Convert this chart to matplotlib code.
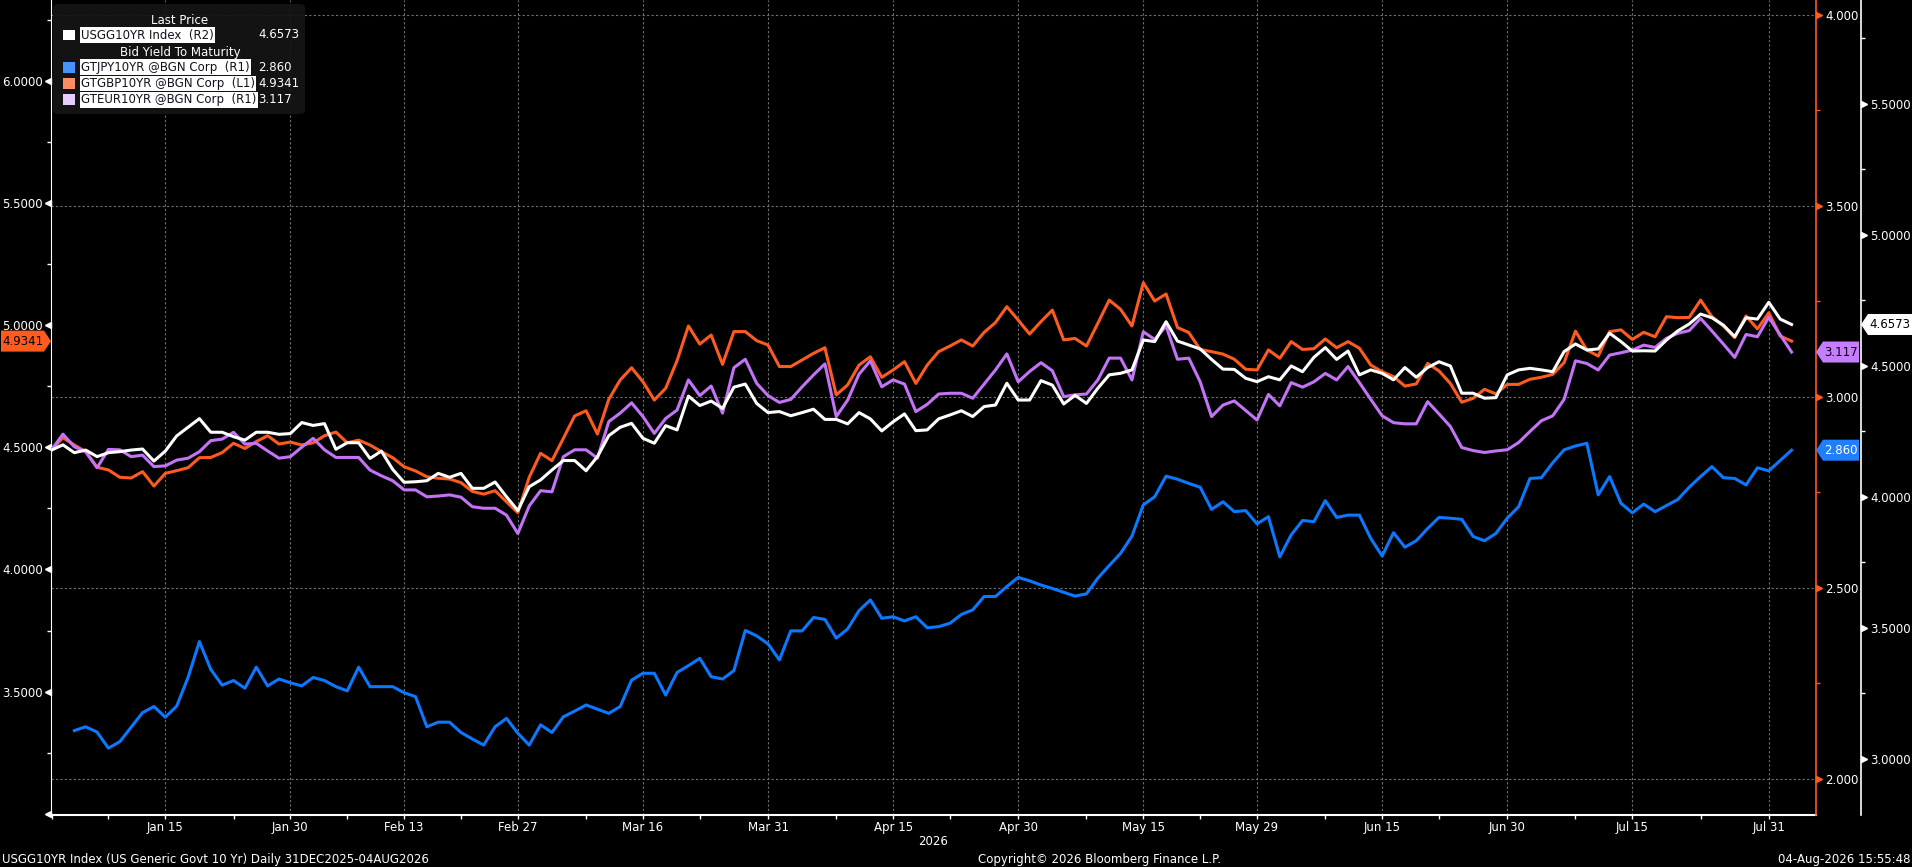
import numpy as np
import pandas as pd
import matplotlib
matplotlib.use("Agg")
import matplotlib.pyplot as plt
from matplotlib import font_manager
from matplotlib.patches import Rectangle, FancyBboxPatch, Polygon

# ---- data (daily, weekdays 01-Jan-2026 .. 04-Aug-2026) ----
us_10y = [
    4.178, 4.198, 4.168, 4.178, 4.153, 4.168, 4.172, 4.178, 4.182, 4.136,
    4.174, 4.232, 4.265, 4.298, 4.246, 4.246, 4.229, 4.216, 4.246, 4.246,
    4.238, 4.241, 4.283, 4.272, 4.279, 4.181, 4.206, 4.206, 4.146, 4.174,
    4.104, 4.055, 4.057, 4.061, 4.089, 4.074, 4.089, 4.032, 4.032, 4.056,
    4.000, 3.947, 4.038, 4.064, 4.102, 4.138, 4.138, 4.099, 4.153, 4.233,
    4.265, 4.280, 4.223, 4.204, 4.271, 4.255, 4.384, 4.348, 4.365, 4.337,
    4.418, 4.430, 4.356, 4.321, 4.325, 4.309, 4.321, 4.334, 4.295, 4.295,
    4.278, 4.321, 4.297, 4.251, 4.286, 4.316, 4.252, 4.255, 4.297, 4.312,
    4.328, 4.306, 4.344, 4.350, 4.433, 4.369, 4.369, 4.443, 4.426, 4.354,
    4.387, 4.356, 4.414, 4.465, 4.471, 4.484, 4.598, 4.592, 4.668, 4.594,
    4.579, 4.564, 4.524, 4.487, 4.486, 4.452, 4.439, 4.458, 4.446, 4.499,
    4.477, 4.532, 4.569, 4.524, 4.556, 4.465, 4.484, 4.471, 4.446, 4.493,
    4.456, 4.493, 4.515, 4.499, 4.395, 4.395, 4.376, 4.378, 4.465, 4.484,
    4.490, 4.484, 4.477, 4.554, 4.583, 4.560, 4.564, 4.624, 4.592, 4.556,
    4.557, 4.556, 4.598, 4.633, 4.659, 4.697, 4.683, 4.655, 4.611, 4.683,
    4.678, 4.742, 4.678, 4.6573,
]

gb_10y = [
    4.489, 4.539, 4.509, 4.482, 4.418, 4.407, 4.377, 4.374, 4.400, 4.341,
    4.393, 4.404, 4.416, 4.457, 4.458, 4.478, 4.516, 4.495, 4.523, 4.547,
    4.513, 4.521, 4.509, 4.518, 4.547, 4.562, 4.518, 4.529, 4.509, 4.482,
    4.457, 4.420, 4.403, 4.379, 4.373, 4.370, 4.355, 4.319, 4.308, 4.322,
    4.277, 4.232, 4.377, 4.475, 4.445, 4.536, 4.628, 4.649, 4.554, 4.696,
    4.775, 4.825, 4.768, 4.693, 4.741, 4.854, 4.996, 4.922, 4.959, 4.839,
    4.973, 4.973, 4.936, 4.918, 4.830, 4.830, 4.857, 4.884, 4.907, 4.714,
    4.755, 4.836, 4.870, 4.786, 4.816, 4.850, 4.761, 4.836, 4.891, 4.914,
    4.939, 4.914, 4.970, 5.010, 5.075, 5.020, 4.963, 5.014, 5.061, 4.939,
    4.945, 4.914, 5.007, 5.102, 5.064, 4.996, 5.173, 5.098, 5.127, 4.990,
    4.969, 4.900, 4.891, 4.881, 4.860, 4.819, 4.816, 4.898, 4.864, 4.932,
    4.900, 4.903, 4.943, 4.907, 4.932, 4.905, 4.836, 4.809, 4.789, 4.750,
    4.759, 4.843, 4.812, 4.761, 4.684, 4.700, 4.737, 4.718, 4.757, 4.757,
    4.778, 4.786, 4.798, 4.846, 4.975, 4.898, 4.873, 4.973, 4.980, 4.941,
    4.970, 4.952, 5.034, 5.030, 5.031, 5.102, 5.034, 4.996, 4.948, 5.037,
    4.984, 5.050, 4.955, 4.9341,
]

eu_10y = [
    2.861, 2.902, 2.869, 2.856, 2.814, 2.862, 2.861, 2.843, 2.847, 2.817,
    2.819, 2.834, 2.839, 2.856, 2.885, 2.889, 2.907, 2.876, 2.878, 2.858,
    2.839, 2.843, 2.868, 2.891, 2.861, 2.841, 2.841, 2.841, 2.808, 2.793,
    2.780, 2.756, 2.756, 2.738, 2.740, 2.743, 2.737, 2.712, 2.708, 2.708,
    2.690, 2.642, 2.714, 2.754, 2.751, 2.843, 2.861, 2.861, 2.839, 2.935,
    2.957, 2.984, 2.948, 2.904, 2.943, 2.965, 3.044, 3.003, 3.028, 2.957,
    3.076, 3.098, 3.035, 3.003, 2.985, 2.993, 3.026, 3.057, 3.086, 2.948,
    2.991, 3.059, 3.094, 3.026, 3.044, 3.033, 2.961, 2.980, 3.007, 3.009,
    3.009, 2.996, 3.033, 3.070, 3.112, 3.039, 3.066, 3.089, 3.068, 3.000,
    3.005, 3.007, 3.044, 3.101, 3.101, 3.044, 3.170, 3.150, 3.185, 3.098,
    3.101, 3.039, 2.948, 2.978, 2.989, 2.964, 2.939, 3.006, 2.976, 3.037,
    3.025, 3.039, 3.061, 3.044, 3.079, 3.037, 2.993, 2.950, 2.932, 2.929,
    2.929, 2.987, 2.955, 2.922, 2.867, 2.859, 2.854, 2.858, 2.861, 2.880,
    2.909, 2.937, 2.950, 2.993, 3.094, 3.087, 3.070, 3.109, 3.115, 3.122,
    3.135, 3.129, 3.153, 3.166, 3.173, 3.205, 3.172, 3.138, 3.103, 3.163,
    3.157, 3.208, 3.162, 3.117,
]

# JGB series starts on 05-Jan (Japanese new-year holidays)
jp_10y = [
    np.nan, np.nan, 2.126, 2.136, 2.122, 2.080, 2.097, 2.135, 2.173, 2.189,
    2.161, 2.190, 2.265, 2.359, 2.286, 2.245, 2.257, 2.237, 2.292, 2.243,
    2.261, 2.251, 2.243, 2.265, 2.257, 2.241, 2.230, 2.292, 2.241, 2.241,
    2.241, 2.225, 2.215, 2.136, 2.148, 2.148, 2.121, 2.104, 2.088, 2.136,
    2.158, 2.119, 2.088, 2.141, 2.121, 2.162, 2.177, 2.193, 2.182, 2.171,
    2.189, 2.258, 2.276, 2.276, 2.219, 2.278, 2.296, 2.315, 2.267, 2.261,
    2.283, 2.388, 2.374, 2.353, 2.311, 2.387, 2.387, 2.422, 2.417, 2.368,
    2.392, 2.440, 2.468, 2.420, 2.424, 2.413, 2.424, 2.395, 2.398, 2.407,
    2.430, 2.442, 2.477, 2.477, 2.503, 2.527, 2.518, 2.507, 2.498, 2.488,
    2.478, 2.484, 2.525, 2.558, 2.590, 2.635, 2.717, 2.738, 2.792, 2.784,
    2.773, 2.763, 2.705, 2.725, 2.699, 2.702, 2.667, 2.686, 2.581, 2.638,
    2.676, 2.673, 2.728, 2.684, 2.690, 2.690, 2.629, 2.583, 2.644, 2.606,
    2.623, 2.655, 2.684, 2.682, 2.679, 2.634, 2.623, 2.642, 2.682, 2.712,
    2.786, 2.788, 2.827, 2.861, 2.871, 2.878, 2.743, 2.791, 2.721, 2.696,
    2.719, 2.699, 2.715, 2.731, 2.763, 2.791, 2.817, 2.788, 2.786, 2.769,
    2.814, 2.806, 2.833, 2.860,
]

major_dates = ["2026-01-15", "2026-01-30", "2026-02-13", "2026-02-27", "2026-03-16",
               "2026-03-31", "2026-04-15", "2026-04-30", "2026-05-15", "2026-05-29",
               "2026-06-15", "2026-06-30", "2026-07-15", "2026-07-31"]
minor_dates = ["2026-01-01", "2026-01-08", "2026-01-23", "2026-02-06", "2026-02-20",
               "2026-03-09", "2026-03-23", "2026-04-08", "2026-04-22", "2026-05-08",
               "2026-05-22", "2026-06-08", "2026-06-22", "2026-07-08", "2026-07-23"]

l1_ticks = [3.5, 4.0, 4.5, 5.0, 5.5, 6.0]
r1_ticks = [2.0, 2.5, 3.0, 3.5, 4.0]
r2_ticks = [3.0, 3.5, 4.0, 4.5, 5.0, 5.5]

# ---- style ----
W, H = 1912, 867
BG = "black"
WHITE = "#ffffff"
ORANGE = "#ff5b1f"
BLUE = "#0a78ff"
PURPLE = "#c373f5"
GRID = "#707070"

names = {f.name for f in font_manager.fontManager.ttflist}
if "Liberation Sans Narrow" in names:
    FONT, FS = "Liberation Sans Narrow", 10
else:
    FONT, FS = "DejaVu Sans", 8.5
plt.rcParams["font.family"] = [FONT, "DejaVu Sans"]


def fx(px):
    return px / W


def fy(py):
    return 1 - py / H


# x axis = weekday count from 31-Dec-2025 (Bloomberg skips weekends)
all_days = pd.bdate_range("2025-12-31", "2026-08-04")
pos = {d: i for i, d in enumerate(all_days)}
dates = all_days[1:]
x = np.array([pos[d] for d in dates])

L1_LIM = (2.9951, 6.3298)
R1_LIM = (1.9050, 4.0385)
R2_LIM = (2.7851, 5.8958)

fig = plt.figure(figsize=(W / 100, H / 100), dpi=100, facecolor=BG)
ax = fig.add_axes([fx(51), fy(815), fx(1816) - fx(51), fy(0) - fy(815)])
ax.set_facecolor(BG)
ax_r1 = ax.twinx()
ax_r2 = ax.twinx()
plot_w = 1816 - 51
ax_r2.spines["right"].set_position(("axes", 1 + 45 / plot_w))

ax.set_xlim(0.95, 156.15)
ax.set_ylim(*L1_LIM)
ax_r1.set_ylim(*R1_LIM)
ax_r2.set_ylim(*R2_LIM)

# grid: verticals at the date ticks, horizontals at the R1 ticks
dash = (0, (2, 2))
for v in r1_ticks:
    yl = L1_LIM[0] + (v - R1_LIM[0]) / (R1_LIM[1] - R1_LIM[0]) * (L1_LIM[1] - L1_LIM[0])
    ax.axhline(yl, color=GRID, lw=0.8, ls=dash, zorder=0)

maj_x = [pos[pd.Timestamp(d)] for d in major_dates]
min_x = [pos[pd.Timestamp(d)] for d in minor_dates]
ax.set_xticks(maj_x)
ax.set_xticklabels([pd.Timestamp(d).strftime("%b ") + str(pd.Timestamp(d).day) for d in major_dates])
ax.set_xticks(min_x, minor=True)
ax.grid(axis="x", which="major", color=GRID, lw=0.8, ls=dash, zorder=0)
ax.tick_params(axis="x", which="both", colors=WHITE, length=3, width=1, pad=1.5,
               labelsize=FS, direction="out")

# lines
ax.plot(x, gb_10y, color=ORANGE, lw=2.2, zorder=3)
ax_r1.plot(x, jp_10y, color=BLUE, lw=2.2, zorder=3)
ax_r1.plot(x, eu_10y, color=PURPLE, lw=2.2, zorder=4)
ax_r2.plot(x, us_10y, color=WHITE, lw=2.2, zorder=5)

# spines
for a in (ax, ax_r1, ax_r2):
    for s in a.spines.values():
        s.set_visible(False)
ax.spines["left"].set_visible(True)
ax.spines["left"].set_color(WHITE)
ax.spines["bottom"].set_visible(True)
ax.spines["bottom"].set_color(WHITE)
ax.spines["bottom"].set_linewidth(1.5)
ax_r1.spines["right"].set_visible(True)
ax_r1.spines["right"].set_color(ORANGE)
ax_r1.spines["right"].set_linewidth(1.2)
ax_r2.spines["right"].set_visible(True)
ax_r2.spines["right"].set_color(WHITE)
ax_r2.spines["right"].set_linewidth(1.2)

# y ticks: labels + quarter minor ticks, majors get Bloomberg triangles
ax.set_yticks(l1_ticks)
ax.set_yticklabels([f"{v:.4f}" for v in l1_ticks])
ax.set_yticks(np.arange(3.25, 6.3, 0.5), minor=True)
ax.tick_params(axis="y", which="major", length=0, pad=6, colors=WHITE, labelsize=FS)
ax.tick_params(axis="y", which="minor", length=3, width=1, colors=WHITE)

ax_r1.set_yticks(r1_ticks)
ax_r1.set_yticklabels([f"{v:.3f}" for v in r1_ticks])
ax_r1.set_yticks(np.arange(2.25, 4.0, 0.5), minor=True)
ax_r1.tick_params(axis="y", which="major", length=0, pad=6.5, colors=ORANGE,
                  labelcolor=WHITE, labelsize=FS)
ax_r1.tick_params(axis="y", which="minor", length=3, width=1, colors=ORANGE)

ax_r2.set_yticks(r2_ticks)
ax_r2.set_yticklabels([f"{v:.4f}" for v in r2_ticks])
ax_r2.set_yticks(np.arange(3.25, 5.9, 0.5), minor=True)
ax_r2.tick_params(axis="y", which="major", length=0, pad=6.5, colors=WHITE, labelsize=FS)
ax_r2.tick_params(axis="y", which="minor", length=3, width=1, colors=WHITE)

ax.plot(np.full(len(l1_ticks) + 1, -3 / plot_w), [3.0] + l1_ticks, ls="none",
        marker="<", ms=4.5, color=WHITE, transform=ax.get_yaxis_transform(), clip_on=False)
ax_r1.plot(np.full(len(r1_ticks), 1 + 3.5 / plot_w), r1_ticks, ls="none",
           marker=">", ms=4.5, color=ORANGE, transform=ax_r1.get_yaxis_transform(), clip_on=False)
ax_r2.plot(np.full(len(r2_ticks), 1 + 48.5 / plot_w), r2_ticks, ls="none",
           marker=">", ms=4.5, color=WHITE, transform=ax_r2.get_yaxis_transform(), clip_on=False)


# last-value tags on the axes
def value_tag(a, value, x_tip, width, face, tcolor, label, side="right"):
    y = a.transData.transform((0, value))[1] / 100 * 100  # display px from bottom
    y = 1 - (H - y) / H
    h = 10.5 / H
    notch = 7 / W
    xt = fx(x_tip)
    w = width / W
    if side == "right":
        pts = [(xt, y), (xt + notch, y + h), (xt + w, y + h), (xt + w, y - h), (xt + notch, y - h)]
        cx = xt + notch + (w - notch) / 2
    else:
        pts = [(xt, y), (xt - notch, y + h), (xt - w, y + h), (xt - w, y - h), (xt - notch, y - h)]
        cx = xt - notch - (w - notch) / 2
    fig.patches.append(Polygon(pts, closed=True, transform=fig.transFigure,
                               facecolor=face, edgecolor="none", zorder=5))
    fig.text(cx, y, label, ha="center", va="center", color=tcolor, fontsize=FS, zorder=6)


value_tag(ax_r2, us_10y[-1], 1861, 51, WHITE, "black", f"{us_10y[-1]:.4f}")
value_tag(ax_r1, eu_10y[-1], 1816, 43, "#c77dff", "black", f"{eu_10y[-1]:.3f}")
value_tag(ax_r1, jp_10y[-1], 1816, 43, "#1f7fff", WHITE, f"{jp_10y[-1]:.3f}")
value_tag(ax, gb_10y[-1], 51, 50, ORANGE, "black", f"{gb_10y[-1]:.4f}", side="left")

# ---- legend panel ----
fig.patches.append(FancyBboxPatch((fx(53), fy(114)), fx(305) - fx(53), fy(4) - fy(114),
                                  boxstyle="round,pad=0,rounding_size=0.004",
                                  transform=fig.transFigure, facecolor="#151515",
                                  edgecolor="none", alpha=0.92, zorder=2))
fig.text(fx(180), fy(20.7), "Last Price", ha="center", va="center", color=WHITE, fontsize=FS)
fig.text(fx(180), fy(52.3), "Bid Yield To Maturity", ha="center", va="center",
         color=WHITE, fontsize=FS)

legend_rows = [
    ("USGG10YR Index  (R2)", f"{us_10y[-1]:.4f}", WHITE, 35.0),
    ("GTJPY10YR @BGN Corp  (R1)", f"{jp_10y[-1]:.3f}", "#4792ff", 67.3),
    ("GTGBP10YR @BGN Corp  (L1)", f"{gb_10y[-1]:.4f}", "#ff8c66", 83.5),
    ("GTEUR10YR @BGN Corp  (R1)", f"{eu_10y[-1]:.3f}", "#e5cdfd", 99.7),
]
for name, val, sq, yy in legend_rows:
    fig.patches.append(Rectangle((fx(62.7), fy(yy + 5.3)), fx(12.3), fy(yy - 5.3) - fy(yy + 5.3),
                                 transform=fig.transFigure, facecolor=sq, edgecolor="none", zorder=3))
    fig.text(fx(81), fy(yy), name, ha="left", va="center", color="#101020", fontsize=FS, zorder=4,
             bbox=dict(boxstyle="square,pad=0.12", facecolor=WHITE, edgecolor="none"))
    fig.text(fx(258), fy(yy), val, ha="left", va="center", color=WHITE, fontsize=FS, zorder=4)

# ---- footer ----
fig.text(fx(933), fy(841.7), "2026", ha="center", va="center", color=WHITE, fontsize=FS)
fig.text(fx(2), fy(859), "USGG10YR Index (US Generic Govt 10 Yr) Daily 31DEC2025-04AUG2026",
         ha="left", va="center", color=WHITE, fontsize=FS)
fig.text(fx(1100), fy(859), "Copyright\u00a9 2026 Bloomberg Finance L.P.", ha="center",
         va="center", color=WHITE, fontsize=FS)
fig.text(fx(1910), fy(859), "04-Aug-2026 15:55:48", ha="right", va="center",
         color=WHITE, fontsize=FS)

fig.savefig("out.png", dpi=100, facecolor=BG)
